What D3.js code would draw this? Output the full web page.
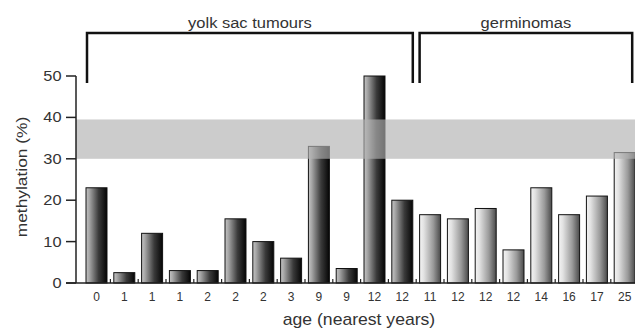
<!DOCTYPE html>
<html>
<head>
<meta charset="utf-8">
<script src="https://cdn.jsdelivr.net/npm/d3@7"></script>
<style>
  body { margin: 0; background: #fff; }
  svg { display: block; font-family: "Liberation Sans", Arial, sans-serif; }
</style>
</head>
<body>
<div id="chart"></div>
<script>
const width = 635
const height = 328

// data
const ages = ["0", "1", "1", "1", "2", "2", "2", "3", "9", "9", "12", "12", "11", "12", "12", "12", "14", "16", "17", "25"]
const yolkSac = [23, 2.5, 12, 3, 3, 15.5, 10, 6, 33, 3.5, 50, 20]
const germinomas = [16.5, 15.5, 18, 8, 23, 16.5, 21, 31.5]
const groups = ["yolk sac tumours", "germinomas"]
const yTicks = [0, 10, 20, 30, 40, 50]
const normalRange = [30, 39.5]

const bars = yolkSac.map((v, i) => ({ i, age: ages[i], value: v, group: 0 }))
  .concat(germinomas.map((v, i) => ({ i: yolkSac.length + i, age: ages[yolkSac.length + i], value: v, group: 1 })))

const svg = d3.select("#chart")
  .append("svg")
  .attr("width", width)
  .attr("height", height)

const x = d3.scaleBand()
  .domain(bars.map(d => d.i))
  .range([82.6, 638.6])
  .paddingInner(0.245)
  .paddingOuter(0.1225)

const y = d3.scaleLinear()
  .domain([0, 50])
  .range([283, 76])

const defs = svg.append("defs")
const g1 = defs.append("linearGradient").attr("id", "grad0")
g1.append("stop").attr("offset", "0%").attr("stop-color", "#c4c4c4")
g1.append("stop").attr("offset", "15%").attr("stop-color", "#a8a8a8")
g1.append("stop").attr("offset", "60%").attr("stop-color", "#3a3a3a")
g1.append("stop").attr("offset", "100%").attr("stop-color", "#050505")
const g2 = defs.append("linearGradient").attr("id", "grad1")
g2.append("stop").attr("offset", "0%").attr("stop-color", "#f4f4f4")
g2.append("stop").attr("offset", "20%").attr("stop-color", "#e2e2e2")
g2.append("stop").attr("offset", "65%").attr("stop-color", "#9a9a9a")
g2.append("stop").attr("offset", "100%").attr("stop-color", "#4a4a4a")

// text looks slightly stretched sideways in the original
function label(sel, tx, ty, rot, sx) {
  return sel.append("text")
    .attr("transform", "translate(" + tx + "," + ty + ")" + (rot ? " rotate(" + rot + ")" : "") + " scale(" + sx + ",1)")
    .attr("fill", "#333")
}

// bars
svg.append("g")
  .selectAll("rect")
  .data(bars)
  .enter()
  .append("rect")
  .attr("x", d => x(d.i))
  .attr("y", d => y(d.value))
  .attr("width", x.bandwidth())
  .attr("height", d => y(0) - y(d.value))
  .attr("fill", d => "url(#grad" + d.group + ")")
  .attr("stroke", "#111")
  .attr("stroke-width", 1)

// shaded range, drawn over the bars
svg.append("rect")
  .attr("x", 76)
  .attr("y", y(normalRange[1]))
  .attr("width", width - 76)
  .attr("height", y(normalRange[0]) - y(normalRange[1]))
  .attr("fill", "#b0b0b0")
  .attr("opacity", 0.65)

// y axis
const yAxis = svg.append("g").attr("transform", "translate(76,0)")
yAxis.append("line")
  .attr("y1", y(0)).attr("y2", y(50))
  .attr("stroke", "#222").attr("stroke-width", 1.5)
yAxis.selectAll(".ytick")
  .data(yTicks)
  .enter()
  .append("line")
  .attr("x1", -10).attr("x2", 0)
  .attr("y1", d => y(d)).attr("y2", d => y(d))
  .attr("stroke", "#222").attr("stroke-width", 1.5)
yTicks.forEach(t => {
  label(yAxis, -14.5, y(t), 0, 1.17)
    .attr("dy", "0.36em")
    .attr("text-anchor", "end")
    .attr("font-size", 14)
    .text(t)
})

// x axis
svg.append("line")
  .attr("x1", 66).attr("x2", width)
  .attr("y1", y(0)).attr("y2", y(0))
  .attr("stroke", "#222").attr("stroke-width", 1.5)
svg.append("g")
  .selectAll("line")
  .data(bars.slice(1))
  .enter()
  .append("line")
  .attr("x1", d => x(d.i) - x.step() * x.paddingInner() / 2)
  .attr("x2", d => x(d.i) - x.step() * x.paddingInner() / 2)
  .attr("y1", y(0)).attr("y2", y(0) - 4)
  .attr("stroke", "#222").attr("stroke-width", 1.2)
svg.append("g")
  .selectAll("text")
  .data(bars)
  .enter()
  .append("text")
  .attr("x", d => x(d.i) + x.bandwidth() / 2)
  .attr("y", 300.5)
  .attr("text-anchor", "middle")
  .attr("font-size", 12)
  .attr("fill", "#333")
  .text(d => d.age)

// axis titles
label(svg, 359, 325, 0, 1.1)
  .attr("text-anchor", "middle")
  .attr("font-size", 16)
  .text("age (nearest years)")
label(svg, 27, 177, -90, 1.12)
  .attr("text-anchor", "middle")
  .attr("font-size", 15.5)
  .text("methylation (%)")

// group brackets
const spans = [
  [x(0) + 1, x(yolkSac.length - 1) + x.bandwidth()],
  [x(yolkSac.length), x(bars.length - 1) + x.bandwidth() - 3]
]
spans.forEach((s, k) => {
  svg.append("path")
    .attr("d", "M" + s[0] + ",83V33H" + s[1] + "V83")
    .attr("fill", "none")
    .attr("stroke", "#111")
    .attr("stroke-width", 2.5)
  label(svg, (s[0] + s[1]) / 2, 27.5, 0, 1.1)
    .attr("text-anchor", "middle")
    .attr("font-size", 15)
    .text(groups[k])
})
</script>
</body>
</html>
